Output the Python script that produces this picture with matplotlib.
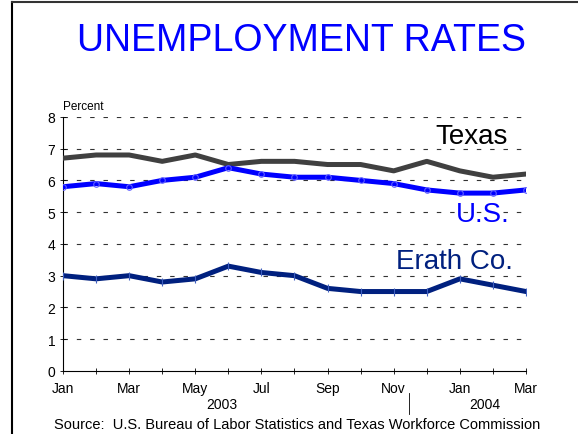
import matplotlib.pyplot as plt
from matplotlib.lines import Line2D

months = ["Jan", "Feb", "Mar", "Apr", "May", "Jun", "Jul", "Aug", "Sep", "Oct", "Nov", "Dec",
          "Jan", "Feb", "Mar"]
texas = [6.7, 6.8, 6.8, 6.6, 6.8, 6.5, 6.6, 6.6, 6.5, 6.5, 6.3, 6.6, 6.3, 6.1, 6.2]
us = [5.8, 5.9, 5.8, 6.0, 6.1, 6.4, 6.2, 6.1, 6.1, 6.0, 5.9, 5.7, 5.6, 5.6, 5.7]
erath = [3.0, 2.9, 3.0, 2.8, 2.9, 3.3, 3.1, 3.0, 2.6, 2.5, 2.5, 2.5, 2.9, 2.7, 2.5]

plt.rcParams['font.family'] = ['Liberation Sans', 'DejaVu Sans']

fig = plt.figure(figsize=(5.78, 4.35), dpi=100)
ax = fig.add_axes([0.109, 0.145, 0.801, 0.584])

x = list(range(len(months)))
ax.plot(x, texas, color='#404040', lw=3.6, solid_joinstyle='round', zorder=3)
ax.plot(x, us, color='#0000ff', lw=3.6, marker='o', ms=4, mfc='none', mec='#6060ff',
        mew=0.8, solid_joinstyle='round', zorder=4)
ax.plot(x, erath, color='#00207f', lw=3.6, marker='|', ms=6, mec='#4060c0',
        mew=0.8, solid_joinstyle='round', zorder=3)

ax.set_xlim(0, 14)
ax.set_ylim(0, 8)
ax.set_yticks(range(9))
ax.set_xticks(x)
ax.set_xticklabels([m if i % 2 == 0 else "" for i, m in enumerate(months)])
for y in range(1, 9):
    ax.axhline(y, color='#333333', lw=0.8, ls=(0, (4, 8)), zorder=1)
ax.spines['top'].set_visible(False)
ax.spines['right'].set_visible(False)
ax.spines['left'].set_linewidth(0.8)
ax.spines['bottom'].set_linewidth(0.8)
ax.tick_params(axis='both', direction='inout', length=4, width=0.6, labelsize=10)
ax.tick_params(axis='x', pad=5)

ax.text(0, 8.15, "Percent", fontsize=8.5, ha='left', va='bottom')
ax.text(13.45, 7.4, "Texas", fontsize=20, color='black', ha='right', va='center')
ax.text(13.5, 4.95, "U.S.", fontsize=20, color='#0000ff', ha='right', va='center')
ax.text(13.6, 3.45, "Erath Co.", fontsize=20, color='#00207f', ha='right', va='center')

ax.text(4.8, -1.05, "2003", fontsize=10, ha='center', va='center')
ax.text(12.75, -1.05, "2004", fontsize=10, ha='center', va='center')
ax.plot([10.45, 10.45], [-0.7, -1.35], color='black', lw=0.6, clip_on=False)

fig.text(0.522, 0.905, "UNEMPLOYMENT RATES", fontsize=27, color='#0000ff', ha='center', va='center')
fig.text(0.514, 0.022, "Source:  U.S. Bureau of Labor Statistics and Texas Workforce Commission",
         fontsize=10.5, ha='center', va='center')

# slide border
fig.add_artist(Line2D([0.021, 0.021], [0, 0.993], color='black', lw=1.5, transform=fig.transFigure))
fig.add_artist(Line2D([0.021, 1], [0.993, 0.993], color='#333333', lw=1.5, transform=fig.transFigure))

fig.savefig("out.png", dpi=100)
